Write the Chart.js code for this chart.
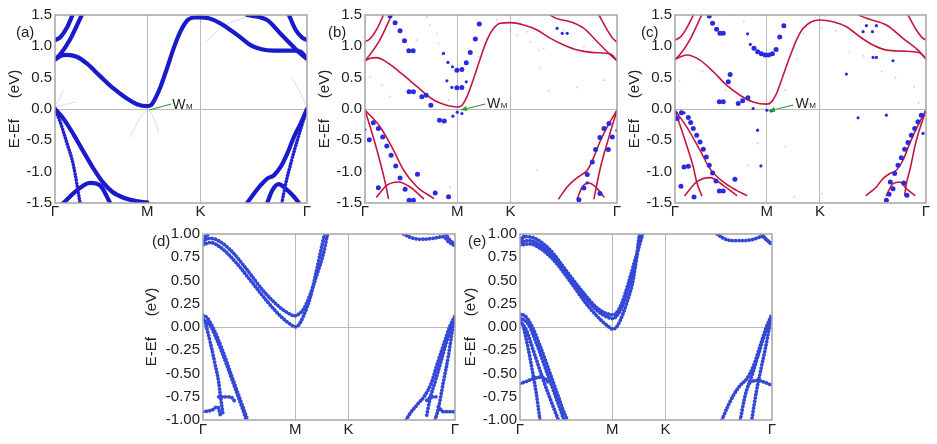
<!DOCTYPE html>
<html><head><meta charset="utf-8">
<script src="https://cdn.jsdelivr.net/npm/chart.js@4.4.1/dist/chart.umd.min.js"></script>
<style>
html,body{margin:0;padding:0;background:#fff;}
#wrap{position:relative;width:937px;height:444px;overflow:hidden;background:#fff;font-family:"Liberation Sans",Arial,sans-serif;}
canvas{position:absolute;}
.lbl{position:absolute;font-size:15px;line-height:15px;color:#222;white-space:nowrap;}
</style></head><body><div id="wrap">
<canvas id="ca" width="315" height="222" style="left:0px;top:0px;width:315px;height:222px"></canvas>
<canvas id="cb" width="315" height="222" style="left:310px;top:0px;width:315px;height:222px"></canvas>
<canvas id="cc" width="317" height="222" style="left:620px;top:0px;width:317px;height:222px"></canvas>
<canvas id="cd" width="330" height="222" style="left:133px;top:222px;width:330px;height:222px"></canvas>
<canvas id="ce" width="330" height="222" style="left:450px;top:222px;width:330px;height:222px"></canvas>
<div class="lbl" style="left:16px;top:24px">(a)</div>
<div class="lbl" style="left:328px;top:24px">(b)</div>
<div class="lbl" style="left:641px;top:24px">(c)</div>
<div class="lbl" style="left:152px;top:233px">(d)</div>
<div class="lbl" style="left:468px;top:233px">(e)</div>
</div>
<script>
// ---------- axes / labels ----------
const X_TICKS = [0, 1, 1.5774, 2.7321];
const X_LABELS = ['Γ', 'M', 'K', 'Γ'];
const Y_TICKS_TOP = [-1.5, -1.0, -0.5, 0, 0.5, 1.0, 1.5];
const Y_TICKS_BOTTOM = [-1, -0.75, -0.5, -0.25, 0, 0.25, 0.5, 0.75, 1];
const Y_TITLE = 'E-Ef     (eV)';

// ---------- panel (a) bands ----------
const a_cb1 = [[0,0.79],[0.072,0.855],[0.127,0.865],[0.236,0.834],[0.344,0.727],[0.489,0.525],[0.634,0.328],[0.779,0.168],[0.888,0.077],[1.0,0.045],[1.04,0.061],[1.087,0.168],[1.141,0.344],[1.214,0.647],[1.286,0.967],[1.359,1.234],[1.431,1.409],[1.504,1.46],[1.576,1.463],[1.667,1.447],[1.793,1.367],[1.902,1.26],[2.011,1.143],[2.12,1.02],[2.228,0.956],[2.373,0.93],[2.591,0.93],[2.663,0.914],[2.732,0.80]];
const a_cb2 = [[2.083,1.5],[2.3,1.42],[2.44,1.21],[2.6,0.97],[2.656,0.89],[2.732,0.80]];
const a_cb3 = [[2.536,1.5],[2.61,1.26],[2.68,1.14],[2.732,1.1]];
const a_cb4 = [[0,1.1],[0.06,1.15],[0.13,1.3],[0.19,1.5]];
const a_cb5 = [[0,0.79],[0.05,0.86],[0.16,1.1],[0.29,1.5]];
const a_vb1 = [[0,0],[0.09,-0.15],[0.199,-0.4],[0.3,-0.66],[0.417,-0.95],[0.52,-1.17],[0.62,-1.32],[0.75,-1.42],[0.88,-1.47],[1.0,-1.49]];
const a_vb2 = [[0,0],[0.05,-0.18],[0.12,-0.5],[0.2,-0.9],[0.272,-1.5]];
const a_vb3 = [[0.09,-1.5],[0.236,-1.3],[0.38,-1.18],[0.489,-1.22],[0.598,-1.5]];
const a_vr1 = [[2.083,-1.5],[2.156,-1.351],[2.228,-1.218],[2.301,-1.111],[2.373,-1.058],[2.446,-0.925],[2.518,-0.712],[2.591,-0.445],[2.663,-0.232],[2.732,0.0]];
const a_vr2 = [[2.46,-1.5],[2.5,-1.2],[2.56,-0.85],[2.627,-0.5],[2.732,0]];
const a_vr3 = [[2.301,-1.5],[2.355,-1.3],[2.428,-1.2],[2.5,-1.27],[2.591,-1.4],[2.645,-1.5]];
const a_f1 = [[0.815,-0.445],[0.9,-0.2],[0.96,-0.07],[1.0,-0.04],[1.05,-0.08],[1.123,-0.365]];
const a_f2 = [[0,0.03],[0.1,0.07],[0.217,0.11]];
const a_f3 = [[0,0.06],[0.05,0.16],[0.09,0.3]];
const a_f4 = [[2.572,0.49],[2.68,0.2],[2.732,0.03]];
const a_f5 = [[1.63,1.06],[1.8,1.3],[2.08,1.47]];

// ---------- panel (b) ----------
const b_cb1 = [[0,0.77],[0.06,0.81],[0.127,0.82],[0.2,0.78],[0.3,0.68],[0.417,0.54],[0.489,0.45],[0.562,0.36],[0.663,0.23],[0.75,0.14],[0.851,0.075],[1.0,0.032],[1.04,0.045],[1.105,0.194],[1.178,0.487],[1.25,0.807],[1.322,1.1],[1.395,1.287],[1.467,1.367],[1.576,1.378],[1.721,1.34],[1.866,1.26],[2.011,1.127],[2.156,1.02],[2.301,0.94],[2.482,0.9],[2.663,0.876],[2.732,0.77]];
const b_cb2 = [[2.01,1.5],[2.065,1.45],[2.228,1.39],[2.373,1.286],[2.518,1.073],[2.663,0.86],[2.732,0.77]];
const b_cb3 = [[2.536,1.5],[2.627,1.26],[2.69,1.12],[2.732,1.07]];
const b_cb4 = [[0,1.07],[0.06,1.13],[0.13,1.28],[0.2,1.5]];
const b_cb5 = [[0,0.77],[0.05,0.86],[0.16,1.1],[0.29,1.5]];
const b_vb1 = [[0,-0.016],[0.163,-0.282],[0.308,-0.654],[0.417,-0.973],[0.562,-1.24],[0.743,-1.425]];
const b_vb2 = [[0,-0.016],[0.109,-0.547],[0.217,-1.16],[0.254,-1.425]];
const b_vb3 = [[0.127,-1.404],[0.236,-1.218],[0.362,-1.164],[0.489,-1.244],[0.634,-1.431]];
const b_vr1 = [[2.101,-1.431],[2.192,-1.244],[2.264,-1.138],[2.337,-1.058],[2.409,-0.978],[2.482,-0.765],[2.554,-0.498],[2.645,-0.232],[2.732,-0.02]];
const b_vr2 = [[2.482,-1.431],[2.554,-0.925],[2.645,-0.445],[2.732,-0.02]];
const b_vr3 = [[2.301,-1.431],[2.355,-1.244],[2.428,-1.18],[2.518,-1.27],[2.591,-1.404]];
const b_dots_big = [[0.272,1.484],[0.326,1.377],[0.38,1.25],[0.428,1.09],[0.475,0.93],[0.522,0.93],[0.478,0.274],[0.525,0.274],[0.616,0.194],[0.663,0.221],[0.714,0.061],[0.996,0.62],[1.05,0.63],[0.996,0.338],[1.05,0.344],[1.098,0.738],[1.141,0.903],[1.196,1.116],[1.239,1.356],[0.808,-0.179],[0.859,-0.19],[0.09,-0.22],[0.145,-0.31],[0.192,-0.445],[0.236,-0.59],[0.283,-0.74],[0.333,-0.91],[0.38,-1.1],[0.435,-1.28],[0.145,-1.255],[0.478,-1.458],[0.525,-1.458],[0.569,-1.04],[0.761,-1.34],[0.906,-1.4],[0.047,-0.49],[2.681,-0.445],[2.645,-0.232],[2.591,-0.31],[2.547,-0.456],[2.5,-0.648],[2.464,-0.845],[2.409,-1.047],[2.373,-1.26],[2.319,-1.447],[2.638,-0.648],[2.547,-1.35]];
const b_dots_med = [[0.851,0.887],[0.899,0.743],[0.949,0.674],[0.888,0.45],[0.942,0.344],[1.098,0.434],[0.953,-0.115],[1.0,-0.051],[1.051,-0.072],[0,-0.33],[2.732,-0.34],[2.083,1.287],[2.138,1.207],[2.192,1.207],[2.409,-1.18]];
const b_dots_faint = [[0.67,1.47],[0.562,1.1],[0.779,1.207],[0.797,1.047],[0.833,0.86],[0.707,1.34],[0.181,0.38],[1.649,1.18],[1.793,1.074],[1.938,0.967],[1.902,0.647],[1.993,0.29],[2.301,0.344],[2.591,0.46],[1.884,0.94],[1.431,1.42],[1.232,0.834],[1.866,-0.978],[0.054,0.514],[0.906,0.141],[0.833,-0.243],[1.576,1.26],[1.757,1.234],[2.156,1.26],[2.373,0.994],[0.272,0.2],[0.924,-1.245]];

// ---------- panel (c) ----------
const c_cb1 = [[0,0.791],[0.127,0.861],[0.272,0.78],[0.417,0.594],[0.562,0.38],[0.707,0.22],[0.851,0.113],[1.0,0.077],[1.051,0.114],[1.105,0.247],[1.178,0.54],[1.25,0.834],[1.322,1.1],[1.395,1.287],[1.486,1.393],[1.576,1.42],[1.721,1.393],[1.866,1.313],[2.011,1.153],[2.156,1.02],[2.301,0.94],[2.482,0.924],[2.663,0.897],[2.732,0.80]];
const c_cb2 = [[2.0,1.5],[2.083,1.447],[2.301,1.34],[2.482,1.127],[2.645,0.94],[2.732,0.80]];
const c_cb3 = [[2.536,1.5],[2.627,1.26],[2.69,1.14],[2.732,1.1]];
const c_cb4 = [[0,1.1],[0.06,1.15],[0.13,1.3],[0.2,1.5]];
const c_cb5 = [[0,0.79],[0.05,0.86],[0.16,1.1],[0.29,1.5]];
const c_vb1 = [[0,-0.019],[0.127,-0.285],[0.272,-0.658],[0.38,-0.951],[0.525,-1.164],[0.67,-1.298],[0.779,-1.378]];
const c_vb2 = [[0,-0.02],[0.109,-0.498],[0.199,-0.925],[0.236,-1.164],[0.29,-1.378]];
const c_vb3 = [[0.109,-1.378],[0.236,-1.164],[0.38,-1.095],[0.525,-1.218],[0.67,-1.378]];
const c_vr1 = [[2.083,-1.378],[2.192,-1.244],[2.264,-1.111],[2.337,-1.031],[2.409,-0.978],[2.482,-0.818],[2.554,-0.552],[2.645,-0.258],[2.732,-0.02]];
const c_vr2 = [[2.5,-1.378],[2.518,-1.2],[2.56,-0.95],[2.627,-0.498],[2.732,-0.02]];
const c_vr3 = [[2.301,-1.378],[2.373,-1.191],[2.446,-1.164],[2.518,-1.27],[2.609,-1.378]];
const c_dots_big = [[0.373,1.484],[0.409,1.367],[0.453,1.271],[0.489,1.207],[0.525,1.207],[0.86,0.97],[0.9,0.915],[0.94,0.88],[0.98,0.86],[1.02,0.86],[1.06,0.88],[1.1,0.95],[1.14,1.15],[1.185,1.33],[0.6,0.55],[0.58,0.435],[0.482,0.114],[0.525,0.114],[0.688,0.088],[0.736,0.13],[0.793,0.178],[0.07,-0.061],[0.025,-0.152],[0.145,-0.136],[0.17,-0.216],[0.199,-0.312],[0.236,-0.418],[0.272,-0.525],[0.308,-0.642],[0.341,-0.765],[0.373,-0.898],[0.409,-1.021],[0.446,-1.148],[0.482,-1.308],[0.525,-1.308],[0.098,-0.925],[0.145,-0.914],[0.065,-1.234],[0.207,-1.404],[0.652,-1.12],[2.681,-0.099],[2.645,-0.205],[2.609,-0.312],[2.572,-0.418],[2.536,-0.536],[2.5,-0.642],[2.464,-0.776],[2.428,-0.898],[2.391,-1.031],[2.344,-1.164],[2.373,-1.271],[2.301,-1.458],[2.33,-1.36],[2.489,-1.18],[2.525,-1.378]];
const c_dots_med = [[0.82,1.03],[0.851,0.008],[0.899,-0.338],[0.935,-0.909],[1.0,-0.02],[1.05,-0.03],[0.011,-0.061],[0.098,-0.061],[2.728,-0.045],[2.7,-0.39],[2.083,1.33],[2.192,1.33],[2.149,1.234],[2.047,1.234],[2.156,0.823],[2.192,0.823],[2.373,0.77],[1.866,0.557],[1.993,-0.141],[2.301,-0.099],[0.79,1.2]];
const c_dots_faint = [[0.62,1.5],[0.75,1.4],[1.3,1.0],[1.33,0.8],[1.2,0.3],[1.45,0.08],[1.6,1.3],[1.75,1.25],[1.9,0.9],[2.05,0.85],[2.25,0.6],[2.4,0.5],[2.6,0.35],[2.65,0.1],[0.9,-0.55],[1.2,-0.6],[0.3,0.6],[0.05,0.45],[0.55,0.3],[1.1,0.2],[1.6,-1.35],[1.3,-1.4],[0.8,-0.9],[1.15,0.45],[1.4,1.2]];

// ---------- panel (d) ----------
const d_c1 = [[0,0.918],[0.061,0.954],[0.152,0.936],[0.296,0.829],[0.477,0.616],[0.657,0.385],[0.838,0.208],[0.946,0.137],[1.0,0.119],[1.036,0.137],[1.09,0.19],[1.162,0.35],[1.235,0.563],[1.307,0.794],[1.35,1.0]];
const d_c2 = [[0,0.883],[0.079,0.908],[0.188,0.858],[0.332,0.723],[0.513,0.503],[0.693,0.279],[0.838,0.119],[0.946,0.03],[1.0,0.002],[1.036,0.02],[1.09,0.119],[1.162,0.314],[1.217,0.545],[1.271,0.794],[1.318,1.0]];
const d_c3 = [[0,0.9],[0.02,0.96],[0.06,1.0]];
const d_cr1 = [[2.173,1.0],[2.245,0.965],[2.354,0.943],[2.498,0.954],[2.606,0.972],[2.661,0.918],[2.733,0.872]];
const d_cr2 = [[2.63,1.0],[2.68,0.93],[2.733,0.89]];
const d_v1 = [[0,0.126],[0.043,0.101],[0.116,-0.023],[0.206,-0.236],[0.296,-0.485],[0.386,-0.734],[0.477,-0.983]];
const d_v2 = [[0,0.084],[0.079,0.013],[0.17,-0.183],[0.26,-0.414],[0.35,-0.662],[0.44,-0.911],[0.47,-1.0]];
const d_v3 = [[0.025,0.048],[0.079,-0.165],[0.134,-0.414],[0.17,-0.591],[0.188,-0.733],[0.217,-0.946]];
const d_v4 = [[0.17,-0.751],[0.296,-0.751],[0.35,-0.804]];
const d_v5 = [[0,-0.911],[0.097,-0.893],[0.159,-0.858],[0.188,-0.947]];
const d_vr1 = [[2.202,-1.0],[2.245,-0.929],[2.318,-0.84],[2.408,-0.733],[2.48,-0.591],[2.534,-0.414],[2.606,-0.2],[2.679,0.013],[2.733,0.119]];
const d_vr2 = [[2.426,-0.947],[2.462,-0.769],[2.516,-0.591],[2.588,-0.343],[2.661,-0.094],[2.733,0.084]];
const d_vr3 = [[2.516,-1.0],[2.552,-0.875],[2.606,-0.591],[2.661,-0.307],[2.715,0.048]];
const d_vr4 = [[2.426,-0.787],[2.48,-0.751],[2.552,-0.751]];
const d_vr5 = [[2.552,-0.858],[2.606,-0.911],[2.733,-0.911]];

// ---------- panel (e) ----------
const e_c1 = [[0,0.943],[0.072,0.972],[0.181,0.943],[0.326,0.829],[0.507,0.598],[0.687,0.368],[0.832,0.208],[0.941,0.144],[1.006,0.13],[1.049,0.155],[1.103,0.254],[1.176,0.474],[1.248,0.723],[1.331,1.0]];
const e_c2 = [[0,0.908],[0.09,0.929],[0.199,0.893],[0.344,0.776],[0.525,0.545],[0.705,0.314],[0.85,0.165],[0.959,0.101],[1.006,0.09],[1.049,0.119],[1.103,0.208],[1.176,0.421],[1.248,0.67],[1.31,1.0]];
const e_c3 = [[0,0.883],[0.109,0.893],[0.217,0.847],[0.362,0.723],[0.543,0.492],[0.724,0.243],[0.868,0.084],[0.959,0.005],[1.006,-0.023],[1.042,-0.005],[1.085,0.066],[1.158,0.261],[1.231,0.528],[1.295,1.0]];
const e_c4 = [[0,0.92],[0.036,0.97],[0.072,1.0]];
const e_cr1 = [[2.135,1.0],[2.207,0.954],[2.297,0.929],[2.424,0.929],[2.533,0.943],[2.623,0.972],[2.677,0.936],[2.732,0.883]];
const e_cr2 = [[2.62,1.0],[2.68,0.93],[2.732,0.9]];
const e_v1 = [[0,0.137],[0.054,0.119],[0.127,0.013],[0.217,-0.201],[0.308,-0.449],[0.398,-0.698],[0.488,-0.947],[0.514,-1.0]];
const e_v2 = [[0,0.101],[0.09,0.03],[0.181,-0.183],[0.271,-0.431],[0.362,-0.68],[0.452,-0.929],[0.478,-1.0]];
const e_v3 = [[0,0.066],[0.072,-0.041],[0.145,-0.254],[0.235,-0.52],[0.326,-0.769],[0.416,-1.0]];
const e_v4 = [[0.036,0.013],[0.09,-0.236],[0.137,-0.485],[0.174,-0.698],[0.217,-1.0]];
const e_v5 = [[0,-0.609],[0.054,-0.591],[0.145,-0.556],[0.235,-0.538],[0.308,-0.591]];
const e_vr1 = [[2.189,-1.0],[2.243,-0.875],[2.315,-0.733],[2.388,-0.627],[2.46,-0.556],[2.533,-0.414],[2.605,-0.201],[2.677,0.013],[2.732,0.137]];
const e_vr2 = [[2.388,-1.0],[2.442,-0.733],[2.515,-0.52],[2.587,-0.289],[2.659,-0.059],[2.732,0.101]];
const e_vr3 = [[2.515,-0.982],[2.562,-0.698],[2.605,-0.485],[2.659,-0.236],[2.713,0.048]];
const e_vr4 = [[2.496,-0.591],[2.569,-0.573],[2.641,-0.591],[2.732,-0.627]];

// W_M annotations: [tipX, tipY, tailX, tailY, textX, textBaselineY]
const WM_A = [1.022, -0.016, 1.261, 0.08, 1.272, 0.0];
const WM_B = [1.04, -0.016, 1.304, 0.08, 1.323, 0.016];
const WM_C = [1.022, -0.032, 1.286, 0.064, 1.312, 0.016];

// ---------- rendering ----------
const FONT = '"Liberation Sans", Arial, sans-serif';
const GRID = 'rgba(185,185,185,1)';
const FRAME = 'rgba(165,165,165,1)';
const X_MAX = X_TICKS[X_TICKS.length - 1];

const ST_THICK = {borderColor:'#1a1acc', borderWidth:4.2};
const ST_ADOT = {borderColor:'#2323d0', borderWidth:3.6, borderDash:[0.001,3.1]};
const ST_FAINT = {borderColor:'rgba(130,130,235,0.3)', borderWidth:1};
const ST_RED = {borderColor:'#c4163e', borderWidth:1.6};
const ST_DDOT = {borderColor:'#3448d8', borderWidth:3.8, borderDash:[0.001,3.4]};

function band(pts, st) {
  const data = pts.slice().sort((p, q) => p[0] - q[0]).map(p => ({x: p[0], y: p[1]}));
  return Object.assign({type:'line', data, pointRadius:0, fill:false, cubicInterpolationMode:'monotone',
    borderCapStyle:'round', borderJoinStyle:'round'}, st);
}
function dots(pts, r, color) {
  return {type:'scatter', data: pts.map(p => ({x: p[0], y: p[1]})), pointRadius:r,
    pointBackgroundColor:color, pointBorderWidth:0, showLine:false};
}
function fmt(v, d) { if (Math.abs(v) < 1e-9) v = 0; return Number(v).toFixed(d); }

const framePlugin = {
  id:'frame',
  afterDraw(chart) {
    const {ctx, chartArea:a} = chart;
    ctx.save(); ctx.strokeStyle = FRAME; ctx.lineWidth = 1.5;
    ctx.strokeRect(a.left, a.top, a.right - a.left, a.bottom - a.top);
    ctx.restore();
  }
};
const wmPlugin = {
  id:'wm',
  afterDatasetsDraw(chart, args, o) {
    if (!o || o.tipX === undefined) return;
    const xs = chart.scales.x, ys = chart.scales.y, ctx = chart.ctx;
    const tx = xs.getPixelForValue(o.tipX), ty = ys.getPixelForValue(o.tipY);
    const sx = xs.getPixelForValue(o.tailX), sy = ys.getPixelForValue(o.tailY);
    ctx.save();
    ctx.strokeStyle = '#2f9a2f'; ctx.fillStyle = '#2f9a2f'; ctx.lineWidth = 1.2;
    ctx.beginPath(); ctx.moveTo(sx, sy); ctx.lineTo(tx, ty); ctx.stroke();
    if (o.arrow) {
      const ang = Math.atan2(ty - sy, tx - sx), L = 6, W = 2.6;
      ctx.beginPath();
      ctx.moveTo(tx, ty);
      ctx.lineTo(tx - L*Math.cos(ang) + W*Math.sin(ang), ty - L*Math.sin(ang) - W*Math.cos(ang));
      ctx.lineTo(tx - L*Math.cos(ang) - W*Math.sin(ang), ty - L*Math.sin(ang) + W*Math.cos(ang));
      ctx.closePath(); ctx.fill();
    }
    const px = xs.getPixelForValue(o.textX), py = ys.getPixelForValue(o.textY);
    ctx.fillStyle = '#222'; ctx.textBaseline = 'alphabetic'; ctx.textAlign = 'left';
    ctx.font = '14px ' + FONT; ctx.fillText('W', px, py);
    const w = ctx.measureText('W').width;
    ctx.font = '8px ' + FONT; ctx.fillText('M', px + w + 0.5, py);
    ctx.restore();
  }
};

function makeChart(id, p) {
  return new Chart(document.getElementById(id), {
    type:'line',
    data:{datasets:p.datasets},
    plugins:[framePlugin, wmPlugin],
    options:{
      responsive:false, animation:false, devicePixelRatio:1, events:[],
      layout:{padding:{left:p.padL, right:p.padR, top:p.padT, bottom:0}},
      plugins:{legend:{display:false}, tooltip:{enabled:false},
        wm: p.wm ? {tipX:p.wm[0], tipY:p.wm[1], tailX:p.wm[2], tailY:p.wm[3], textX:p.wm[4], textY:p.wm[5], arrow:p.arrow} : false},
      scales:{
        x:{type:'linear', min:0, max:X_MAX,
          afterFit(s){ s.height = p.xH; },
          afterBuildTicks(s){ s.ticks = X_TICKS.map(v => ({value:v})); },
          ticks:{autoSkip:false, maxRotation:0, padding:p.xPad, color:'#222', font:{family:FONT, size:15},
            callback:(v, i) => X_LABELS[i]},
          grid:{drawTicks:false, lineWidth:1, color:c => (c.index === 1 || c.index === 2) ? GRID : 'rgba(0,0,0,0)'},
          border:{display:false}},
        y:{type:'linear', min:p.yTicks[0], max:p.yTicks[p.yTicks.length - 1],
          afterFit(s){ s.width = p.yW; },
          afterBuildTicks(s){ s.ticks = p.yTicks.map(v => ({value:v})); },
          ticks:{padding:3, color:'#222', font:{family:FONT, size:15}, callback:v => fmt(v, p.dec)},
          grid:{drawTicks:false, lineWidth:1, color:c => (c.tick && Math.abs(c.tick.value) < 1e-9) ? GRID : 'rgba(0,0,0,0)'},
          border:{display:false},
          title:{display:true, text:Y_TITLE, color:'#222', font:{family:FONT, size:15}, padding:0}}
      }
    }
  });
}

const BLUE_DOT = '#2a2ae2';
const FAINT_DOT = 'rgba(120,120,225,0.4)';

makeChart('ca', {padL:6, padR:8, padT:15, yW:49, xH:19, xPad:0, yTicks:Y_TICKS_TOP, dec:1, wm:WM_A, arrow:false,
  datasets:[
    band(a_cb1, ST_THICK), band(a_cb2, ST_THICK), band(a_cb3, ST_THICK), band(a_cb4, ST_THICK), band(a_cb5, ST_THICK),
    band(a_vb1, ST_THICK), band(a_vb2, ST_ADOT), band(a_vb3, ST_THICK),
    band(a_vr1, ST_THICK), band(a_vr2, ST_ADOT), band(a_vr3, ST_THICK),
    band(a_f1, ST_FAINT), band(a_f2, ST_FAINT), band(a_f3, ST_FAINT), band(a_f4, ST_FAINT), band(a_f5, ST_FAINT)
  ]});

makeChart('cb', {padL:6, padR:8, padT:15, yW:49, xH:19, xPad:0, yTicks:Y_TICKS_TOP, dec:1, wm:WM_B, arrow:true,
  datasets:[
    dots(b_dots_big, 2.5, BLUE_DOT), dots(b_dots_med, 1.6, BLUE_DOT), dots(b_dots_faint, 0.9, FAINT_DOT),
    band(b_cb1, ST_RED), band(b_cb2, ST_RED), band(b_cb3, ST_RED), band(b_cb4, ST_RED), band(b_cb5, ST_RED),
    band(b_vb1, ST_RED), band(b_vb2, ST_RED), band(b_vb3, ST_RED),
    band(b_vr1, ST_RED), band(b_vr2, ST_RED), band(b_vr3, ST_RED)
  ]});

makeChart('cc', {padL:6, padR:11, padT:15, yW:49, xH:19, xPad:0, yTicks:Y_TICKS_TOP, dec:1, wm:WM_C, arrow:true,
  datasets:[
    dots(c_dots_big, 2.5, BLUE_DOT), dots(c_dots_med, 1.6, BLUE_DOT), dots(c_dots_faint, 0.9, FAINT_DOT),
    band(c_cb1, ST_RED), band(c_cb2, ST_RED), band(c_cb3, ST_RED), band(c_cb4, ST_RED), band(c_cb5, ST_RED),
    band(c_vb1, ST_RED), band(c_vb2, ST_RED), band(c_vb3, ST_RED),
    band(c_vr1, ST_RED), band(c_vr2, ST_RED), band(c_vr3, ST_RED)
  ]});

makeChart('cd', {padL:10, padR:8, padT:10, yW:60, xH:24, xPad:1, yTicks:Y_TICKS_BOTTOM, dec:2, wm:null,
  datasets:[
    band(d_c1, ST_DDOT), band(d_c2, ST_DDOT), band(d_c3, ST_DDOT), band(d_cr1, ST_DDOT), band(d_cr2, ST_DDOT),
    band(d_v1, ST_DDOT), band(d_v2, ST_DDOT), band(d_v3, ST_DDOT), band(d_v4, ST_DDOT), band(d_v5, ST_DDOT),
    band(d_vr1, ST_DDOT), band(d_vr2, ST_DDOT), band(d_vr3, ST_DDOT), band(d_vr4, ST_DDOT), band(d_vr5, ST_DDOT)
  ]});

makeChart('ce', {padL:12, padR:8, padT:10, yW:58, xH:24, xPad:1, yTicks:Y_TICKS_BOTTOM, dec:2, wm:null,
  datasets:[
    band(e_c1, ST_DDOT), band(e_c2, ST_DDOT), band(e_c3, ST_DDOT), band(e_c4, ST_DDOT), band(e_cr1, ST_DDOT), band(e_cr2, ST_DDOT),
    band(e_v1, ST_DDOT), band(e_v2, ST_DDOT), band(e_v3, ST_DDOT), band(e_v4, ST_DDOT), band(e_v5, ST_DDOT),
    band(e_vr1, ST_DDOT), band(e_vr2, ST_DDOT), band(e_vr3, ST_DDOT), band(e_vr4, ST_DDOT)
  ]});
</script></body></html>
